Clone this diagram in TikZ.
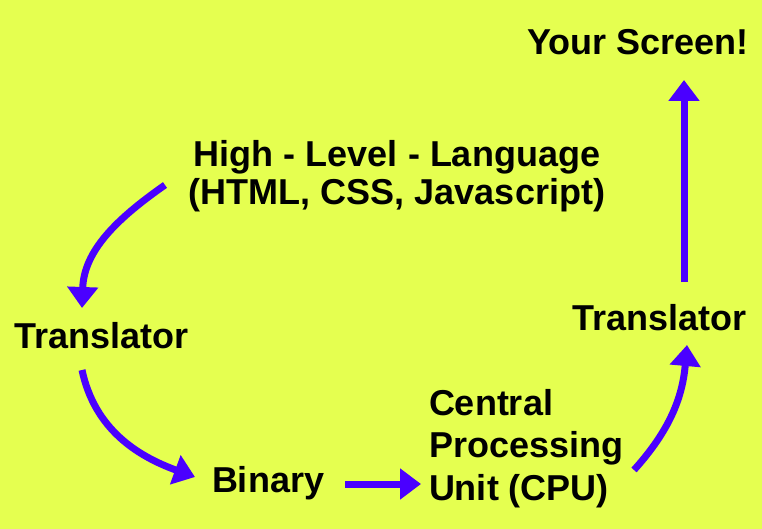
\documentclass[tikz,border=0pt]{standalone}
\usepackage{fontspec}
\setmainfont{Liberation Sans}
\usetikzlibrary{arrows.meta}
\definecolor{bgyellow}{HTML}{E5FF50}
\definecolor{arrowblue}{HTML}{4A00FF}
\tikzset{
  lbl/.style={inner sep=0pt, outer sep=0pt, font=\fontsize{36}{38}\selectfont\bfseries, text=black},
  flow/.style={draw=arrowblue, line width=7pt, -{Triangle[width=30pt,length=21pt]}},
}
\begin{document}
\begin{tikzpicture}[x=1pt, y=-1pt]
\fill[bgyellow] (0,0) rectangle (762,529);
\useasboundingbox (0,0) rectangle (762,529);

\node[lbl, anchor=base west] (screen) at (527,55) {Your Screen!};
\node[lbl, anchor=base] (hl1) at (397,167) {High - Level - Language};
\node[lbl, anchor=base] (hl2) at (397,205) {(HTML, CSS, Javascript)};
\node[lbl, anchor=base west] (trl) at (14,348) {Translator};
\node[lbl, anchor=base west] (trr) at (572,330) {Translator};
\node[lbl, anchor=base west] (bin) at (212,492) {Binary};
\node[lbl, anchor=base west] (cpu1) at (429,415) {Central};
\node[lbl, anchor=base west] (cpu2) at (429,457) {Processing};
\node[lbl, anchor=base west] (cpu3) at (429,500) {Unit (CPU)};

\coordinate (a1s) at (165,185);
\coordinate (a1e) at (82,308);
\coordinate (a2s) at (82,370);
\coordinate (a2e) at (195,477);
\coordinate (a3s) at (345,484);
\coordinate (a3e) at (421,484);
\coordinate (a4s) at (634,470);
\coordinate (a4e) at (687,345);
\coordinate (a5s) at (684,282);
\coordinate (a5e) at (684,80);

\draw[flow] (a1s) to[out=-145, in=88] (a1e);
\draw[flow] (a2s) to[out=-78, in=160] (a2e);
\draw[flow] (a3s) -- (a3e);
\draw[flow] (a4s) to[out=48, in=-95] (a4e);
\draw[flow] (a5s) -- (a5e);
\end{tikzpicture}
\end{document}
